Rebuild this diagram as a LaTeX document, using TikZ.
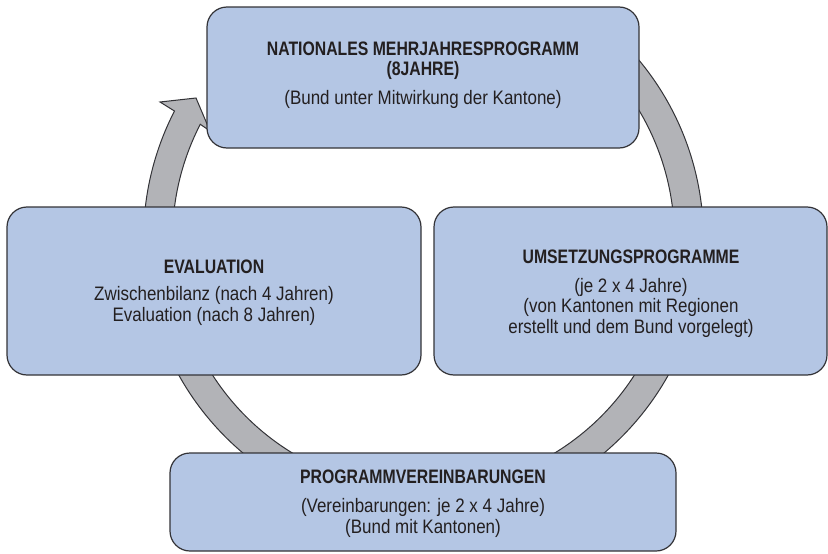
\documentclass[tikz,border=0pt]{standalone}
\usepackage{fontspec}
\setmainfont{Liberation Sans}[FakeStretch=0.87, BoldFeatures={FakeStretch=0.81}]
\definecolor{boxfill}{HTML}{B4C6E4}
\definecolor{ringfill}{HTML}{B2B3B7}
\definecolor{edge}{HTML}{333337}
\definecolor{ink}{HTML}{231F20}
\begin{document}
\begin{tikzpicture}[x=1pt,y=-1pt,
  box/.style={draw=edge, line width=1.2pt, fill=boxfill, rounded corners=20pt, inner sep=0pt},
  ring/.style={draw=edge, line width=1pt, fill=ringfill, line join=miter},
  ttl/.style={anchor=base, inner sep=0pt, text=ink, font=\fontsize{19.5}{21}\selectfont\bfseries},
  txt/.style={anchor=base, inner sep=0pt, text=ink, font=\fontsize{19.5}{21}\selectfont}]
\useasboundingbox (0,0) rectangle (828,554);
\coordinate (c) at (423.5,239);
\coordinate (barbL) at (160,102);
\coordinate (tip) at (196,98);
\coordinate (barbR) at (210,131);
% ring with arrowhead
\path[ring] ([shift={(-45:280)}]c) arc[start angle=-45, end angle=207.2, radius=280]
  -- (barbL) -- (tip) -- (barbR) -- ([shift={(207.2:251)}]c)
  arc[start angle=207.2, end angle=-45, radius=251] -- cycle;
% boxes
\node[box, minimum width=432pt, minimum height=141pt] (nat) at (423,77.5) {};
\node[box, minimum width=414pt, minimum height=168pt] (eval) at (214,291) {};
\node[box, minimum width=393pt, minimum height=168pt] (ums) at (630.5,291) {};
\node[box, minimum width=506pt, minimum height=98pt] (prog) at (423,502) {};
% texts
\node[ttl] (natT1) at (423,55) {NATIONALES MEHRJAHRESPROGRAMM};
\node[ttl] (natT2) at (423,75) {(8JAHRE)};
\node[txt] (natT3) at (423,104) {(Bund unter Mitwirkung der Kantone)};
\node[ttl] (evalT1) at (214,273) {EVALUATION};
\node[txt] (evalT2) at (214,300) {Zwischenbilanz (nach 4 Jahren)};
\node[txt] (evalT3) at (214,321) {Evaluation (nach 8 Jahren)};
\node[ttl] (umsT1) at (631,263) {UMSETZUNGSPROGRAMME};
\node[txt] (umsT2) at (631,292) {(je 2 x 4 Jahre)};
\node[txt] (umsT3) at (631,312) {(von Kantonen mit Regionen};
\node[txt] (umsT4) at (631,333) {erstellt und dem Bund vorgelegt)};
\node[ttl] (progT1) at (423,483) {PROGRAMMVEREINBARUNGEN};
\node[txt] (progT2) at (423,512) {(Vereinbarungen: je 2 x 4 Jahre)};
\node[txt] (progT3) at (423,533) {(Bund mit Kantonen)};
\end{tikzpicture}
\end{document}
